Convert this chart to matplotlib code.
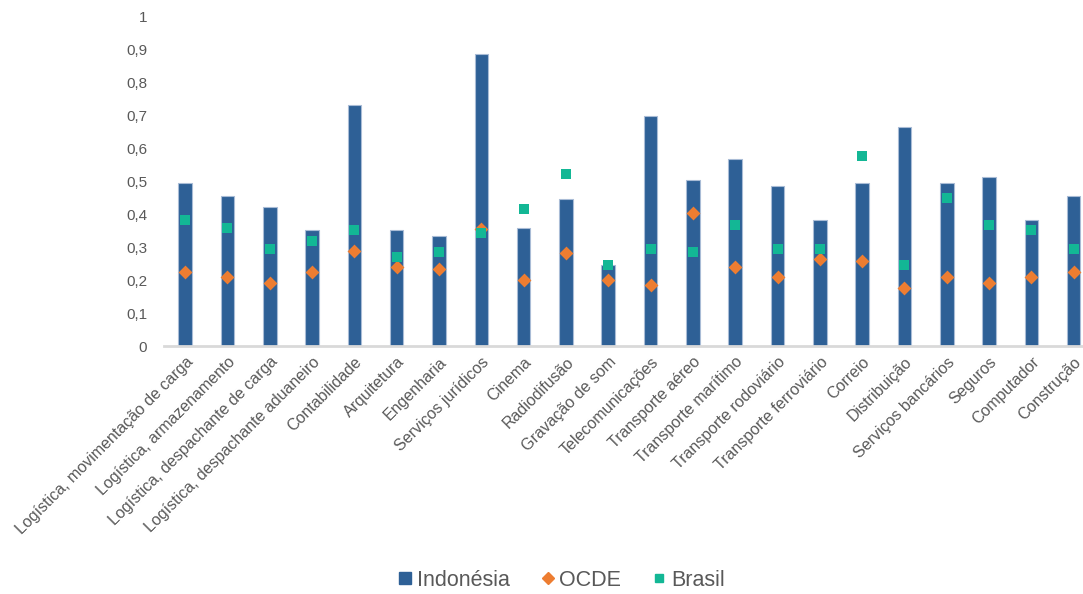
import matplotlib
matplotlib.use("Agg")
import matplotlib.pyplot as plt
import numpy as np
from matplotlib.lines import Line2D

categories = [
    "Logística, movimentação de carga", "Logística, armazenamento",
    "Logística, despachante de carga", "Logística, despachante aduaneiro",
    "Contabilidade", "Arquitetura", "Engenharia", "Serviços jurídicos",
    "Cinema", "Radiodifusão", "Gravação de som", "Telecomunicações",
    "Transporte aéreo", "Transporte marítimo", "Transporte rodoviário",
    "Transporte ferroviário", "Correio", "Distribuição", "Serviços bancários",
    "Seguros", "Computador", "Construção",
]
indonesia = [0.496, 0.455, 0.423, 0.352, 0.732, 0.352, 0.334, 0.887,
             0.358, 0.447, 0.245, 0.698, 0.504, 0.568, 0.487, 0.382,
             0.496, 0.667, 0.496, 0.513, 0.382, 0.455]
ocde = [0.225, 0.209, 0.192, 0.225, 0.290, 0.241, 0.233, 0.357,
        0.201, 0.282, 0.201, 0.184, 0.403, 0.241, 0.209, 0.265,
        0.257, 0.176, 0.209, 0.192, 0.209, 0.225]
brasil = [0.382, 0.358, 0.294, 0.318, 0.352, 0.270, 0.285, 0.343,
          0.415, 0.522, 0.245, 0.294, 0.285, 0.367, 0.294, 0.294,
          0.577, 0.245, 0.449, 0.367, 0.352, 0.294]
yticks = [0, 0.1, 0.2, 0.3, 0.4, 0.5, 0.6, 0.7, 0.8, 0.9, 1]
ytick_labels = ["0", "0,1", "0,2", "0,3", "0,4", "0,5", "0,6", "0,7", "0,8", "0,9", "1"]

c_bar = "#2E6096"
c_ocde = "#ED7D31"
c_bra = "#13B795"
c_txt = "#595959"

plt.rcParams['font.family'] = ['Liberation Sans', 'DejaVu Sans']

fig = plt.figure(figsize=(10.83, 5.94), dpi=100)
ax = fig.add_axes([164/1083, (594-346)/594, 1 - 164/1083, (346-17)/594])

x = np.arange(len(categories))
ax.bar(x, indonesia, width=0.32, color=c_bar, edgecolor="#A9BCD6", linewidth=0.8, zorder=2)
ax.scatter(x, ocde, marker="D", s=50, color=c_ocde, zorder=3, linewidths=0)
ax.scatter(x, brasil, marker="s", s=60, color=c_bra, zorder=4, linewidths=0)

ax.set_ylim(0, 1)
ax.set_xlim(-0.5, 21.22)
ax.set_yticks(yticks)
ax.set_yticklabels(ytick_labels, fontsize=11, color=c_txt)
ax.set_xticks(x)
ax.set_xticklabels(categories, rotation=45, ha="right", rotation_mode="anchor",
                   fontsize=11.5, color=c_txt)
ax.tick_params(axis="both", length=0)
ax.tick_params(axis="y", pad=12)
ax.tick_params(axis="x", pad=6)
for s in ["top", "right", "left"]:
    ax.spines[s].set_visible(False)
ax.spines["bottom"].set_color("#D9D9D9")
ax.spines["bottom"].set_linewidth(2)

handles = [
    Line2D([], [], marker="s", linestyle="none", color=c_bar, markersize=8),
    Line2D([], [], marker="D", linestyle="none", color=c_ocde, markersize=6),
    Line2D([], [], marker="s", linestyle="none", color=c_bra, markersize=6),
]
leg = fig.legend(handles, ["Indonésia", "OCDE", "Brasil"], loc="center",
                 bbox_to_anchor=(560/1083, 1 - 580/594), ncol=3, frameon=False,
                 fontsize=15.5, handletextpad=0.1, columnspacing=1.3, handlelength=0.9)
for t in leg.get_texts():
    t.set_color(c_txt)

fig.savefig("out.png", dpi=100)
